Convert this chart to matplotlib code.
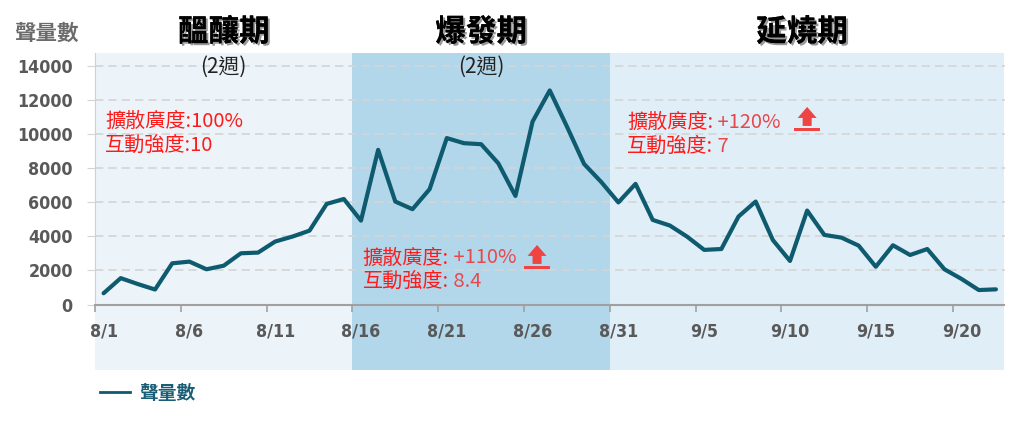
import numpy as np
import matplotlib
matplotlib.use("Agg")
import matplotlib.pyplot as plt
import matplotlib.patheffects as pe
import matplotlib.transforms as mtransforms
from matplotlib import font_manager as fm
from matplotlib.patches import Rectangle, Polygon
from matplotlib.lines import Line2D

plt.rcParams['font.family'] = ['Noto Sans CJK TC', 'DejaVu Sans']

## data (daily volume, 8/1 - 9/22)

volume = [660, 1550, 1200, 880, 2420, 2520, 2070, 2280, 3010, 3050,
          3700, 3990, 4340, 5910, 6200, 4930, 9090, 6050, 5600, 6780,
          9780, 9480, 9420, 8300, 6380, 10750, 12580, 10460, 8260, 7200,
          6000, 7090, 4970, 4640, 3990, 3210, 3260, 5170, 6050, 3790,
          2560, 5520, 4090, 3930, 3460, 2220, 3480, 2910, 3260, 2070,
          1500, 850, 890]
tick_labels = ['8/1', '8/6', '8/11', '8/16', '8/21', '8/26', '8/31',
               '9/5', '9/10', '9/15', '9/20']
y_ticks = [0, 2000, 4000, 6000, 8000, 10000, 12000, 14000]

phase_names = ['醞釀期', '爆發期', '延燒期']
phase_sub = ['(2週)', '(2週)', '']
phase_bounds = [(0, 15), (15, 30), (30, 53)]
phase_colors = ['#ecf4fa', '#b2d7eb', '#e0eef7']

annot_spread = ['100%', '+110%', '+120%']
annot_inter = ['10', '8.4', '7']

series_name = '聲量數'
line_color = '#0e5a6e'


## pick a narrow bold font for the numbers, if there is one

def find_narrow_font():
    wanted = ['LiberationSansNarrow-Bold.', 'NotoSans-CondensedBold.', 'DejaVuSansCondensed-Bold.',
              'NotoSans-SemiCondensedBold.', 'LiberationSans-Bold.', 'Roboto-Bold.']
    names = [f.fname for f in fm.fontManager.ttflist]
    for w in wanted:
        for n in names:
            if n.split('/')[-1].startswith(w):
                return fm.FontProperties(fname=n)
    return fm.FontProperties(family='DejaVu Sans', weight='bold')


num_prop = find_narrow_font()

## figure

fig = plt.figure(figsize=(10.24, 4.23), dpi=100)
renderer = fig.canvas.get_renderer()

# size the numbers so that '14000' is about as wide as in the reference
probe = fig.text(0, 0, '14000', fontproperties=num_prop, fontsize=16)
w = probe.get_window_extent(renderer).width
probe.remove()
num_size = min(16 * 56 / w, 17)

ax = fig.add_axes([95 / 1024, 1 - 304.5 / 423, (1004.5 - 95) / 1024, (304.5 - 53) / 423])
ax.set_facecolor('none')
ax.set_xlim(0, len(volume))
ax.set_ylim(0, 14780)

# phase backgrounds, extending under the tick labels
for (x0, x1), c in zip(phase_bounds, phase_colors):
    ax.add_patch(Rectangle((x0, -0.262), x1 - x0, 1.262, transform=ax.get_xaxis_transform(),
                           facecolor=c, edgecolor='none', zorder=0, clip_on=False))

x = np.arange(len(volume)) + 0.5
ax.plot(x, volume, color=line_color, lw=3, solid_joinstyle='round', solid_capstyle='round', zorder=3)

# axes styling
for s in ['top', 'right']:
    ax.spines[s].set_visible(False)
ax.spines['left'].set_color('#d0d0d0')
ax.spines['bottom'].set_color('#a0a0a0')
ax.spines['bottom'].set_linewidth(1.5)
ax.spines['bottom'].set_zorder(4)

ax.set_yticks(y_ticks)
ax.set_yticklabels([str(v) for v in y_ticks])
ax.grid(axis='y', color='#d4d4d4', linestyle=(0, (5, 3)), lw=1.2, zorder=1)
ax.tick_params(axis='y', length=6, color='#d4d4d4', pad=10, labelcolor='#595959')

ax.set_xticks(np.arange(0, 51, 5))
ax.set_xticklabels([])
ax.set_xticks(np.arange(0, 51, 5) + 0.5, minor=True)
ax.set_xticklabels(tick_labels, minor=True)
ax.tick_params(axis='x', which='major', length=5, width=1.2, color='#a0a0a0')
ax.tick_params(axis='x', which='minor', length=0, pad=13, labelcolor='#595959')
for lab in ax.get_xticklabels(minor=True) + ax.get_yticklabels():
    lab.set_fontproperties(num_prop)
    lab.set_fontsize(num_size)

# phase titles
for (x0, x1), name, sub in zip(phase_bounds, phase_names, phase_sub):
    xc = (x0 + x1) / 2 if x1 < 53 else 41.2
    ax.text(xc, 1.0 + 21 / 252, name, transform=ax.get_xaxis_transform(), ha='center', va='center',
            fontsize=22, fontweight='bold', color='black',
            path_effects=[pe.withSimplePatchShadow(offset=(1.5, -1.5), shadow_rgbFace='#555555', alpha=0.6),
                          pe.Normal()])
    if sub:
        ax.text(xc, 1.0 - 14 / 252, sub, transform=ax.get_xaxis_transform(), ha='center', va='center',
                fontsize=15, color='#222222')

# red annotations
annot_pos = [(0.58, 10750, 9380), (15.6, 2735, 1340), (31.0, 10680, 9280)]
for i, (ax_x, y1, y2) in enumerate(annot_pos):
    if i == 0:
        ax.text(ax_x, y1, '擴散廣度:' + annot_spread[i], color='#ff1a1a', fontsize=14.5, va='center')
        ax.text(ax_x, y2, '互動強度:' + annot_inter[i], color='#ff1a1a', fontsize=14.5, va='center')
    else:
        t1 = ax.text(ax_x, y1, '擴散廣度:', color='#ff1a1a', fontsize=14.5, va='center')
        t2 = ax.text(ax_x, y2, '互動強度:', color='#ff1a1a', fontsize=14.5, va='center')
        ax.annotate(' ' + annot_spread[i], xy=(1, 0.5), xycoords=t1, va='center',
                    color='#e8484c', fontsize=14.5)
        ax.annotate(' ' + annot_inter[i], xy=(1, 0.5), xycoords=t2, va='center',
                    color='#e8484c', fontsize=14.5)


def up_icon(xd, yd):
    # arrow with underline, shape in pixels, anchored at data point (bottom centre)
    tr = mtransforms.ScaledTranslation(xd, yd, ax.transData)
    bar = Rectangle((-13, 0), 26, 3, transform=tr, facecolor='#ee4444', edgecolor='none', zorder=5)
    arrow = Polygon([(-4.5, 5), (4.5, 5), (4.5, 13), (9.5, 13), (0, 24), (-9.5, 13), (-4.5, 13)],
                    closed=True, transform=tr, facecolor='#ee4444', edgecolor='none', zorder=5)
    ax.add_artist(bar)
    ax.add_artist(arrow)


up_icon(25.76, 2090)
up_icon(41.5, 10200)

# y label
fig.text(46 / 1024, 1 - 33 / 423, '聲量數', ha='center', va='center', fontsize=15.5,
         fontweight='bold', color='#6b6b6b')

# legend
handle = Line2D([], [], color=line_color, lw=2)
leg = fig.legend([handle], [series_name], loc='center left', bbox_to_anchor=(92 / 1024, 1 - 393 / 423),
                 frameon=False, handlelength=1.6, handletextpad=0.5, borderaxespad=0,
                 prop={'size': 13.5, 'weight': 'bold'})
for t in leg.get_texts():
    t.set_color('#1a5e75')

fig.savefig('out.png', dpi=100)
